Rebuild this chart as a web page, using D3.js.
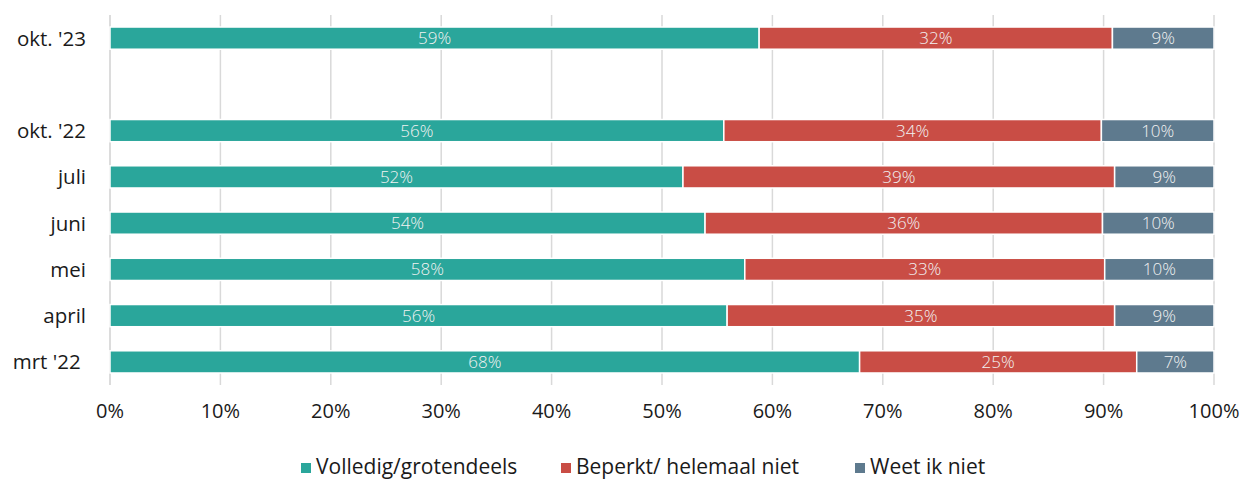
<!DOCTYPE html>
<html>
<head>
<meta charset="utf-8">
<script src="https://cdn.jsdelivr.net/npm/d3@7"></script>
<style>
  body { margin: 0; background: #fff; }
  svg { display: block; }
</style>
</head>
<body>
<svg width="1245" height="480"></svg>
<script>
// rows top to bottom, "" is the empty spacer row
var categories = ["okt. '23", "", "okt. '22", "juli", "juni", "mei", "april", "mrt '22\u00a0"];
var volledig = [58.8, null, 55.6, 51.9, 53.9, 57.5, 55.9, 67.9];
var beperkt  = [32.0, null, 34.2, 39.1, 36.0, 32.6, 35.1, 25.1];
var weetNiet = [9.2, null, 10.2, 9.0, 10.1, 9.9, 9.0, 7.0];
var seriesNames = ["Volledig/grotendeels", "Beperkt/ helemaal niet", "Weet ik niet"];
var colors = ["#2aa69b", "#c94d45", "#5e7a8e"];
var xTicks = [0, 10, 20, 30, 40, 50, 60, 70, 80, 90, 100];

var svg = d3.select("svg"),
    margin = {top: 15, right: 31, bottom: 95, left: 110},
    width = +svg.attr("width") - margin.left - margin.right,
    height = +svg.attr("height") - margin.top - margin.bottom;

var font = "'Open Sans', sans-serif";

var rows = categories.map(function(c, i) {
  return {cat: c, i: i, vals: [volledig[i], beperkt[i], weetNiet[i]]};
});

var x = d3.scaleLinear().domain([0, 100]).range([0, width]);
var y = d3.scaleBand()
  .domain(d3.range(categories.length))
  .range([0, height])
  .paddingInner(0.52)
  .paddingOuter(0.26);

var g = svg.append("g")
  .attr("transform", "translate(" + margin.left + "," + margin.top + ")");

// grid lines
g.selectAll(".grid")
  .data(xTicks.slice(1))
  .enter().append("line")
    .attr("class", "grid")
    .attr("x1", function(d) { return x(d); })
    .attr("x2", function(d) { return x(d); })
    .attr("y1", 0)
    .attr("y2", height)
    .style("stroke", "#d9d9d9")
    .style("stroke-width", 1.5);

g.append("line")
  .attr("x1", 0).attr("x2", 0)
  .attr("y1", 0).attr("y2", height)
  .style("stroke", "#d0d0d0")
  .style("stroke-width", 1.5);

// bars
var bars = g.selectAll(".row")
  .data(rows.filter(function(r) { return r.vals[0] != null; }))
  .enter().append("g")
    .attr("class", "row");

bars.each(function(r) {
  var acc = 0;
  var segs = r.vals.map(function(v, k) {
    var s = {x0: acc, x1: acc + v, v: v, k: k};
    acc += v;
    return s;
  });
  var row = d3.select(this);
  row.selectAll("rect")
    .data(segs)
    .enter().append("rect")
      .attr("x", function(d) { return x(d.x0); })
      .attr("y", y(r.i))
      .attr("width", function(d) { return x(d.x1) - x(d.x0); })
      .attr("height", y.bandwidth())
      .style("fill", function(d) { return colors[d.k]; })
      .style("stroke", "#fff")
      .style("stroke-width", 1.5);
  row.selectAll("text")
    .data(segs)
    .enter().append("text")
      .attr("x", function(d) { return x((d.x0 + d.x1) / 2); })
      .attr("y", y(r.i) + y.bandwidth() / 2)
      .attr("dy", "0.36em")
      .attr("text-anchor", "middle")
      .style("font", "300 17px " + font)
      .style("fill", "#f2f2f2")
      .text(function(d) { return Math.round(d.v) + "%"; });
});

// category labels
g.selectAll(".cat")
  .data(rows)
  .enter().append("text")
    .attr("class", "cat")
    .attr("x", -24)
    .attr("y", function(d) { return y(d.i) + y.bandwidth() / 2; })
    .attr("dy", "0.36em")
    .attr("text-anchor", "end")
    .style("font", "20.5px " + font)
    .style("fill", "#1a1a1a")
    .style("white-space", "pre")
    .text(function(d) { return d.cat; });

// x axis labels
g.selectAll(".xt")
  .data(xTicks)
  .enter().append("text")
    .attr("class", "xt")
    .attr("x", function(d) { return x(d); })
    .attr("y", height + 33)
    .attr("text-anchor", "middle")
    .style("font", "20px " + font)
    .style("fill", "#1a1a1a")
    .text(function(d) { return d + "%"; });

// legend
var legendX = [301, 561, 855];
var legend = svg.selectAll(".legend")
  .data(seriesNames)
  .enter().append("g")
    .attr("class", "legend")
    .attr("transform", function(d, i) { return "translate(" + legendX[i] + ",466)"; });

legend.append("rect")
  .attr("x", 0).attr("y", -3)
  .attr("width", 10).attr("height", 10)
  .style("fill", function(d, i) { return colors[i]; });

legend.append("text")
  .attr("x", 15)
  .attr("dy", "0.36em")
  .style("font", "21px " + font)
  .style("fill", "#1a1a1a")
  .text(function(d) { return d; });
</script>
</body>
</html>
